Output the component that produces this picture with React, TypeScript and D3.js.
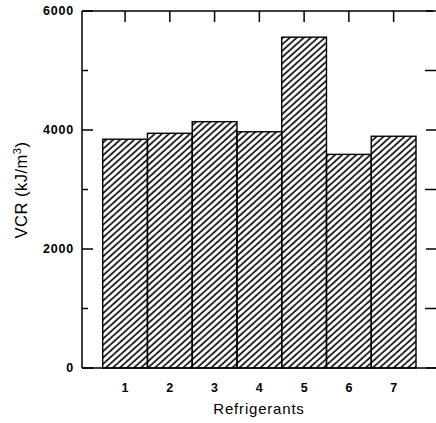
import React from "react";
import * as d3 from "d3";

const categories = ["1", "2", "3", "4", "5", "6", "7"];
const values = [3845, 3945, 4140, 3970, 5560, 3590, 3895];
const yMajorTicks = [0, 2000, 4000, 6000];
const yMinorTicks = [1000, 3000, 5000];
const xTitle = "Refrigerants";

export default function App() {
  const W = 436, H = 423;
  const left = 82, right = 437, top = 11, bottom = 368;
  const x = d3.scaleBand<string>().domain(categories).range([102.7, 416]).padding(0);
  const y = d3.scaleLinear().domain([0, 6000]).range([bottom, top]);
  const font = "'Liberation Sans', Arial, Helvetica, sans-serif";
  const sw = 1.5;
  return (
    <svg width={W} height={H} style={{ position: "absolute", left: 0, top: 0, background: "#fff" }}>
      <defs>
        <pattern id="hatch" patternUnits="userSpaceOnUse" width={4.7} height={10} patternTransform="rotate(48)">
          <line x1={1} y1={0} x2={1} y2={10} stroke="#000" strokeWidth={1.6} />
        </pattern>
      </defs>
      <rect x={0} y={0} width={W} height={H} fill="#fff" />
      {categories.map((c, i) => (
        <rect key={c} x={x(c)} y={y(values[i])} width={x.bandwidth()} height={bottom - y(values[i])}
          fill="url(#hatch)" stroke="#000" strokeWidth={1.4} />
      ))}
      {/* frame */}
      <line x1={left} y1={top} x2={left} y2={bottom} stroke="#000" strokeWidth={sw} />
      <line x1={left} y1={bottom} x2={W} y2={bottom} stroke="#000" strokeWidth={sw} />
      <line x1={left} y1={top} x2={433} y2={top} stroke="#000" strokeWidth={sw} />
      {/* left ticks */}
      {yMajorTicks.map(t => (
        <g key={"M" + t}>
          <line x1={left} x2={left + 11} y1={y(t)} y2={y(t)} stroke="#000" strokeWidth={sw} />
          <line x1={right - 11} x2={right} y1={y(t)} y2={y(t)} stroke="#000" strokeWidth={sw} />
          <text x={74} y={y(t)} dy="0.35em" textAnchor="end" fontFamily={font} fontSize={12.5}
            letterSpacing={0.8} fontWeight="bold" fill="#000">{t}</text>
        </g>
      ))}
      {yMinorTicks.map(t => (
        <g key={"m" + t}>
          <line x1={left} x2={left + 6} y1={y(t)} y2={y(t)} stroke="#000" strokeWidth={sw} />
          <line x1={right - 12} x2={right} y1={y(t)} y2={y(t)} stroke="#000" strokeWidth={sw} />
        </g>
      ))}
      {/* top ticks */}
      {categories.map(c => (
        <line key={"t" + c} x1={x(c)! + x.bandwidth() / 2} x2={x(c)! + x.bandwidth() / 2}
          y1={top} y2={top + 11} stroke="#000" strokeWidth={sw} />
      ))}
      {/* x labels */}
      {categories.map(c => (
        <text key={"l" + c} x={x(c)! + x.bandwidth() / 2} y={392} textAnchor="middle"
          fontFamily={font} fontSize={12.5} fontWeight="bold" fill="#000">{c}</text>
      ))}
      <text x={259} y={414} textAnchor="middle" fontFamily={font} fontSize={15}
        letterSpacing={0.8} fill="#000">{xTitle}</text>
      <text transform="translate(27,190) rotate(-90)" textAnchor="middle" fontFamily={font}
        fontSize={16.5} letterSpacing={0.5} fill="#000">
        VCR (kJ/m<tspan baselineShift="super" fontSize={11}>3</tspan>)
      </text>
    </svg>
  );
}
